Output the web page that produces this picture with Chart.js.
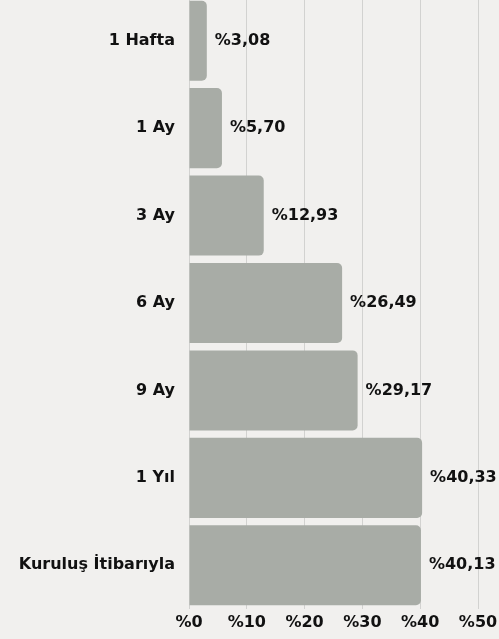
<!DOCTYPE html>
<html>
<head>
<meta charset="utf-8">
<script src="https://cdn.jsdelivr.net/npm/chart.js@4/dist/chart.umd.min.js"></script>
<style>
  html, body { margin: 0; padding: 0; background: #f1f0ee; overflow: hidden; }
  #wrap { width: 499px; height: 642px; margin-top: -3px; }
</style>
</head>
<body>
<div id="wrap"><canvas id="myChart"></canvas></div>
<script>
const categories = ['1 Hafta', '1 Ay', '3 Ay', '6 Ay', '9 Ay', '1 Yıl', 'Kuruluş İtibarıyla'];
const returns = [3.08, 5.70, 12.93, 26.49, 29.17, 40.33, 40.13];
const xTicks = [0, 10, 20, 30, 40, 50];

const FONT = 'DejaVu Sans';
const fmt = v => '%' + v.toFixed(2).replace('.', ',');

// draws the value next to each bar end
const valueLabels = {
  id: 'valueLabels',
  afterDatasetsDraw(chart) {
    const c = chart.ctx;
    const meta = chart.getDatasetMeta(0);
    c.save();
    c.font = 'bold 16px "' + FONT + '"';
    c.fillStyle = '#111';
    c.textBaseline = 'middle';
    c.textAlign = 'left';
    meta.data.forEach((bar, i) => {
      c.fillText(fmt(returns[i]), bar.x + 8, bar.y);
    });
    c.restore();
  }
};

const ctx = document.getElementById('myChart');

new Chart(ctx, {
  type: 'bar',
  data: {
    labels: categories,
    datasets: [
      {
        data: returns,
        backgroundColor: '#a8aca6',
        borderRadius: 5,
        barPercentage: 0.916,
        categoryPercentage: 1,
      },
    ],
  },
  options: {
    indexAxis: 'y',
    responsive: true,
    maintainAspectRatio: false,
    animation: false,
    layout: { padding: 0 },
    plugins: {
      legend: { display: false },
      tooltip: { enabled: false },
    },
    scales: {
      x: {
        min: 0,
        max: 50,
        afterBuildTicks: axis => { axis.ticks = xTicks.map(v => ({ value: v })); },
        afterFit: axis => {
          axis.height = 30;
          axis.paddingLeft = 0;
          axis.paddingRight = 21;
        },
        grid: { color: '#d2d2d0', lineWidth: 1, drawTicks: false },
        border: { display: false },
        ticks: {
          padding: 4,
          color: '#111',
          font: { family: FONT, size: 16, weight: 'bold' },
          callback: v => '%' + v,
        },
      },
      y: {
        grid: { display: false, drawTicks: false },
        border: { display: false },
        afterFit: axis => {
          axis.width = 189;
          axis.paddingTop = 0;
          axis.paddingBottom = 0;
        },
        ticks: {
          padding: 14,
          color: '#111',
          font: { family: FONT, size: 16, weight: 'bold' },
        },
      },
    },
  },
  plugins: [valueLabels],
});
</script>
</body>
</html>
